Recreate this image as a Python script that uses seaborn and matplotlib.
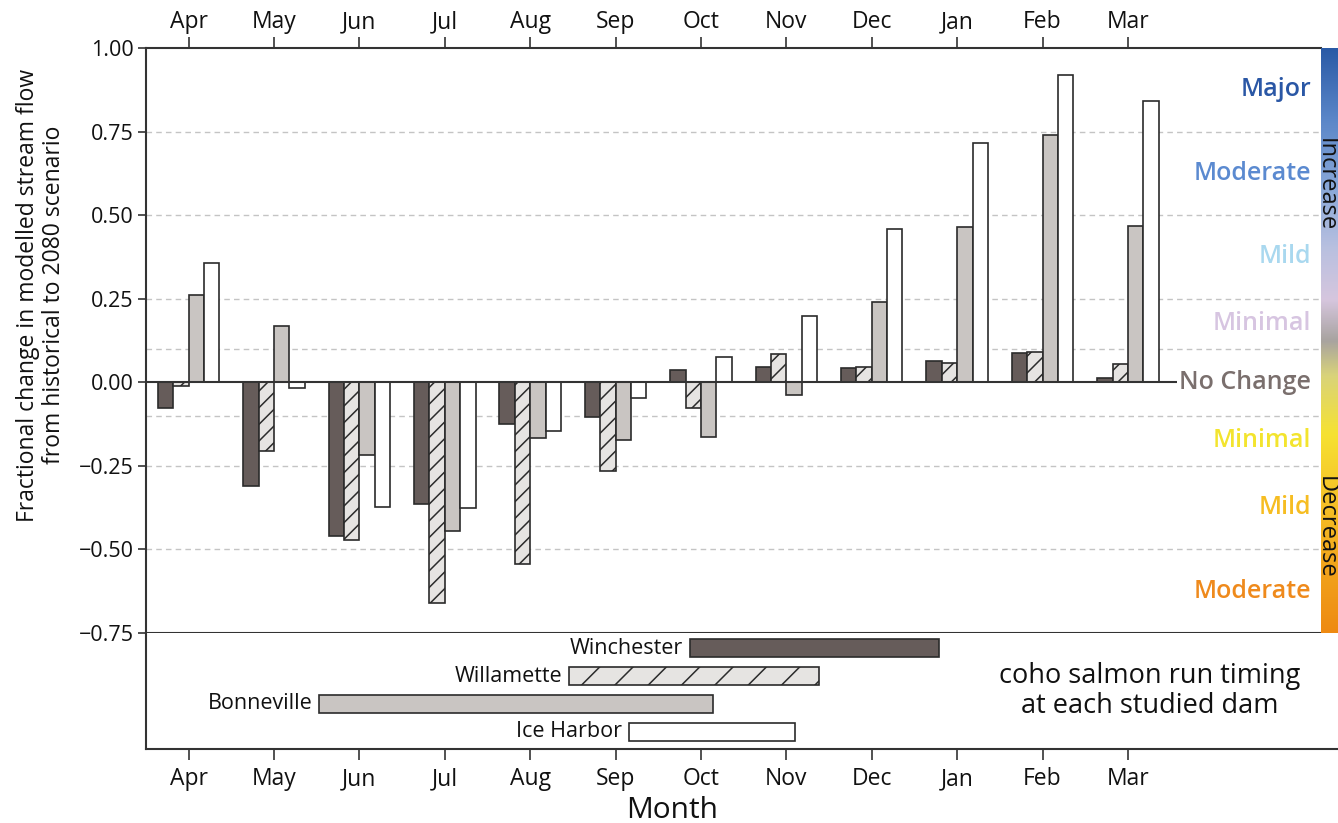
import numpy as np
import pandas as pd
import matplotlib
matplotlib.use("Agg")
import matplotlib.pyplot as plt
import seaborn as sns
from matplotlib.colors import LinearSegmentedColormap

# ---------------- data ----------------
months = ["Apr", "May", "Jun", "Jul", "Aug", "Sep", "Oct", "Nov", "Dec", "Jan", "Feb", "Mar"]
dams = ["Winchester", "Willamette", "Bonneville", "Ice Harbor"]
winchester = [-0.077, -0.31, -0.46, -0.363, -0.124, -0.104, 0.036, 0.045, 0.042, 0.065, 0.089, 0.012]
willamette = [-0.01, -0.205, -0.472, -0.66, -0.544, -0.266, -0.078, 0.084, 0.047, 0.059, 0.092, 0.056]
bonneville = [0.26, 0.168, -0.219, -0.444, -0.167, -0.174, -0.165, -0.039, 0.24, 0.466, 0.74, 0.469]
ice_harbor = [0.357, -0.018, -0.372, -0.375, -0.147, -0.048, 0.076, 0.199, 0.46, 0.715, 0.92, 0.84]
# run timing (month index, Apr = 0)
run_start = [5.87, 4.45, 1.53, 5.16]
run_end = [8.79, 7.38, 6.14, 7.10]
# change classes
class_bounds = [1.0, 0.75, 0.5, 0.25, 0.1, -0.1, -0.25, -0.5, -0.75]
class_labels = ["Major", "Moderate", "Mild", "Minimal", "No Change", "Minimal", "Mild", "Moderate"]
yticks = [-0.75, -0.5, -0.25, 0.0, 0.25, 0.5, 0.75, 1.0]

# ---------------- styles ----------------
dam_colors = ["#665c5a", "#e6e4e2", "#c9c5c2", "#ffffff"]
class_colors = ["#2a57a5", "#5b8ad0", "#a9d8ef", "#d7c5e1", "#7a6f6d", "#f3e42e", "#f6bd22", "#ef8a1c"]
edge = "#2b2b2b"
spine_c = "#333333"
txt_c = "#111111"

sns.set_theme(style="white")
plt.rcParams["font.family"] = ["Open Sans", "DejaVu Sans"]
plt.rcParams["hatch.linewidth"] = 1.1
plt.rcParams["axes.unicode_minus"] = True
plt.rcParams["text.color"] = txt_c
plt.rcParams["xtick.color"] = txt_c
plt.rcParams["ytick.color"] = txt_c
plt.rcParams["axes.labelcolor"] = txt_c

W, H = 1338, 823
fig = plt.figure(figsize=(W / 100, H / 100), dpi=100)

def fx(px):
    return px / W

def fy(py):
    return 1 - py / H

x0 = 189.0
dx = 85.36
ax = fig.add_axes([fx(146), fy(633), fx(1321) - fx(146), fy(48) - fy(633)])
ax2 = fig.add_axes([fx(146), fy(749), fx(1338) - fx(146), fy(633) - fy(749)])

df = pd.DataFrame({
    "month": months * 4,
    "dam": sum([[d] * 12 for d in dams], []),
    "change": winchester + willamette + bonneville + ice_harbor,
})

sns.barplot(data=df, x="month", y="change", hue="dam", order=months, hue_order=dams,
            palette=dam_colors, saturation=1, width=0.72, errorbar=None,
            edgecolor=edge, linewidth=1.2, legend=False, ax=ax, zorder=3)
for p in ax.containers[1]:
    p.set_hatch("//")

xmax_main = (1321 - x0) / dx
ax.set_xlim(-0.5, xmax_main)
ax.set_ylim(-0.75, 1.0)

# dashed class boundaries
for g in class_bounds[1:-1]:
    ax.axhline(g, color="#c4c4c4", lw=1.0, ls=(0, (4, 3)), zorder=1)
# zero line
ax.hlines(0, -0.5, (1177 - x0) / dx, color=spine_c, lw=1.5, zorder=4)

# class labels
mids = [(a + b) / 2 for a, b in zip(class_bounds[:-1], class_bounds[1:])]
for lab, y, c in zip(class_labels, mids, class_colors):
    ax.text((1311 - x0) / dx, y, lab, ha="right", va="center", color=c,
            fontsize=18, fontweight="semibold", zorder=5)

# axes styling main
ax.xaxis.set_ticks_position("top")
ax.xaxis.set_label_position("top")
ax.set_xticks(range(len(months)))
ax.set_xticklabels(months)
ax.set_yticks(yticks)
ax.set_yticklabels([f"{v:.2f}".replace("-", "\u2212") for v in yticks])
ax.tick_params(axis="x", direction="out", length=8, width=1.2, color=spine_c,
               labelsize=16.5, pad=2, top=True, bottom=False, labeltop=True, labelbottom=False)
ax.tick_params(axis="y", direction="out", length=6, width=1.2, color=spine_c,
               labelsize=15.5, pad=3, left=True)
ax.set_xlabel("")
ax.set_ylabel("")
for s in ["top", "left", "bottom"]:
    ax.spines[s].set_color(spine_c)
    ax.spines[s].set_linewidth(1.5)
ax.spines["right"].set_visible(False)
ax.grid(False)

# ---------------- run timing panel ----------------
for i, (d, s, e, c) in enumerate(zip(dams, run_start, run_end, dam_colors)):
    ax2.barh(i, e - s, left=s, height=0.62, color=c, edgecolor=edge, linewidth=1.2,
             hatch="/" if d == "Willamette" else None)
    ax2.text(s - 0.08, i, d, ha="right", va="center", fontsize=15.5)
ax2.set_xlim(-0.5, (1338 - x0) / dx)
ax2.set_ylim(3.61, -0.54)
ax2.set_yticks([])
ax2.set_xticks(range(len(months)))
ax2.set_xticklabels(months)
ax2.tick_params(axis="x", direction="out", length=8, width=1.2, color=spine_c,
                labelsize=16.5, pad=5, bottom=True)
for s in ["left", "bottom"]:
    ax2.spines[s].set_color(spine_c)
    ax2.spines[s].set_linewidth(1.5)
ax2.spines["top"].set_visible(False)
ax2.spines["right"].set_visible(False)
ax2.text((1150 - x0) / dx, 1.55, "coho salmon run timing\nat each studied dam",
         ha="center", va="center", fontsize=19.5, linespacing=1.1)
ax2.grid(False)
fig.text(fx(672), fy(810), "Month", ha="center", va="center", fontsize=21.5)

# ---------------- colour bar ----------------
cax = fig.add_axes([fx(1321), fy(633), fx(1338) - fx(1321), fy(48) - fy(633)])
cmap = LinearSegmentedColormap.from_list("chg", [
    (0.0, "#ee8a12"), (0.12, "#f2a61c"), (0.25, "#f6c82a"), (0.34, "#f6e232"),
    (0.44, "#d9d37a"), (0.5, "#a8a3a0"), (0.57, "#d6c6de"), (0.66, "#b8c0e0"),
    (0.76, "#8aa8d8"), (0.88, "#5a86c8"), (1.0, "#2a5aa6")])
grad = np.linspace(0, 1, 256).reshape(-1, 1)
cax.imshow(grad, aspect="auto", cmap=cmap, origin="lower", extent=[0, 1, 0, 1])
cax.set_axis_off()
fig.text(fx(1326), fy(185), "Increase", rotation=270, ha="center", va="center", fontsize=17)
fig.text(fx(1326), fy(527), "Decrease", rotation=270, ha="center", va="center", fontsize=17)

# y label
fig.text(fx(41), fy(295), "Fractional change in modelled stream flow\nfrom historical to 2080 scenario",
         rotation=90, ha="center", va="center", fontsize=16.5, linespacing=1.1)

fig.savefig("out.png", dpi=100)
